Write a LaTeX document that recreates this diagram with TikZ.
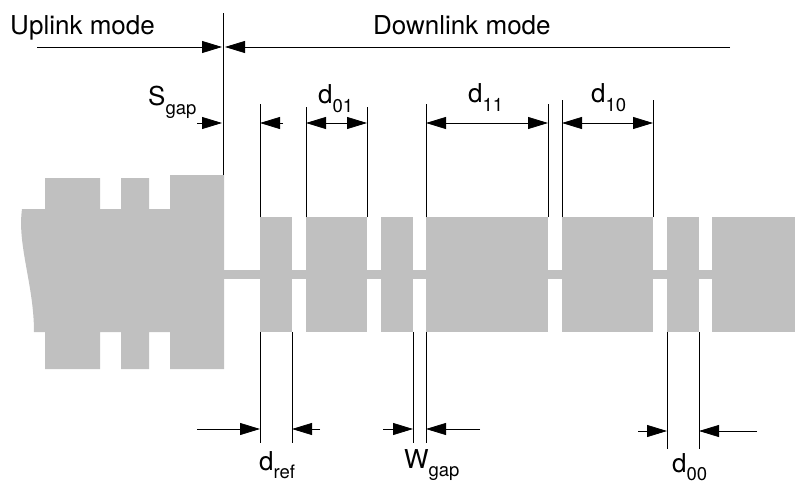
\documentclass[tikz,border=0pt]{standalone}
\usepackage{fontspec}
\setmainfont{TeX Gyre Heros}
\usepackage{xcolor}
\usepackage{tikz}
\usetikzlibrary{arrows.meta}

\definecolor{pulsegray}{RGB}{192,192,192}
\newcommand{\lowsub}[1]{\raisebox{-8.5pt}{\fontsize{18.5}{18.5}\selectfont #1}}

\begin{document}
\begin{tikzpicture}[x=1pt, y=-1pt,
  pulse/.style={fill=pulsegray, inner sep=0pt, outer sep=0pt, minimum height=115pt},
  dimline/.style={line width=0.8pt},
  dimarrow/.style={line width=0.8pt, -{Triangle[length=20pt, width=12pt]}},
  dimboth/.style={line width=0.8pt, {Triangle[length=20pt, width=12pt]}-{Triangle[length=20pt, width=12pt]}},
  lbl/.style={anchor=base west, inner sep=0pt, font=\fontsize{26}{31}\selectfont}
]
  \useasboundingbox (0,0) rectangle (795,484);

  % uplink burst
  \fill[pulsegray] (22,209) -- (45,209) -- (45,178) -- (100,178) -- (100,209)
    -- (121,209) -- (121,178) -- (149,178) -- (149,209) -- (170,209) -- (170,175)
    -- (224,175) -- (224,369) -- (170,369) -- (170,332) -- (149,332) -- (149,369)
    -- (121,369) -- (121,332) -- (100,332) -- (100,369) -- (45,369) -- (45,332)
    -- (34,332) .. controls (34,285) and (17,245) .. (22,209) -- cycle;

  % carrier and downlink pulses
  \fill[pulsegray] (224,270) rectangle (712,279);
  \foreach \n/\a/\b in {1/260/292, 2/306/367, 3/381/413, 4/426/548, 5/562/653, 6/667/699, 7/712/795}
    \node[pulse, minimum width={(\b-\a)*1pt}] (p\n) at ({(\a+\b)/2},274.5) {};

  % mode boundary
  \coordinate (bnd) at (223,175);
  \coordinate (bndtop) at (223,13);
  \draw[dimline] (bnd) -- (bndtop);
  \coordinate (upL) at (37,47);
  \coordinate (upR) at (222,47);
  \coordinate (dnR) at (730,47);
  \coordinate (dnL) at (225,47);
  \draw[dimarrow] (upL) -- (upR);
  \draw[dimarrow] (dnR) -- (dnL);
  \node[lbl] (uplink) at (10,35) {Uplink mode};
  \node[lbl] (downlink) at (373,35) {Downlink mode};

  % upper dimensions
  \coordinate (topdim) at (0,123);
  \coordinate (sgapL) at (197,123);
  \coordinate (sgapR) at (222,123);
  \coordinate (refT) at (283,123);
  \draw[dimarrow] (sgapL) -- (sgapR);
  \draw[dimline] (p1.north west) -- ++(0,-113);
  \draw[dimarrow] (refT) -- (p1.north west |- topdim);
  \draw[dimline] (p2.north west) -- ++(0,-110);
  \draw[dimline] (p2.north east) -- ++(0,-110);
  \draw[dimboth] (p2.north west |- topdim) -- (p2.north east |- topdim);
  \draw[dimline] (p4.north west) -- ++(0,-113);
  \draw[dimline] (p4.north east) -- ++(0,-113);
  \draw[dimboth] (p4.north west |- topdim) -- (p4.north east |- topdim);
  \draw[dimline] (p5.north west) -- ++(0,-117);
  \draw[dimline] (p5.north east) -- ++(0,-117);
  \draw[dimboth] (p5.north west |- topdim) -- (p5.north east |- topdim);
  \node[lbl] (sgap) at (148,106) {S\lowsub{gap}};
  \node[lbl] (d01) at (318,104) {d\lowsub{01}};
  \node[lbl] (d11) at (468,103) {d\lowsub{11}};
  \node[lbl] (d10) at (591,103) {d\lowsub{10}};

  % lower dimensions
  \coordinate (botdim) at (0,429);
  \coordinate (refL) at (197,429);
  \coordinate (refR) at (320,429);
  \coordinate (wgapL) at (383,429);
  \coordinate (wgapR) at (480,429);
  \coordinate (zzL) at (638,431);
  \coordinate (zzR) at (757,431);
  \draw[dimline] (p1.south west) -- ++(0,111);
  \draw[dimline] (p1.south east) -- ++(0,111);
  \draw[dimarrow] (refL) -- (p1.south west |- botdim);
  \draw[dimarrow] (refR) -- (p1.south east |- botdim);
  \draw[dimline] (p3.south east) -- ++(0,111);
  \draw[dimline] (p4.south west) -- ++(0,111);
  \draw[dimarrow] (wgapL) -- (p3.south east |- botdim);
  \draw[dimarrow] (wgapR) -- (p4.south west |- botdim);
  \draw[dimline] (p6.south west) -- ++(0,117);
  \draw[dimline] (p6.south east) -- ++(0,117);
  \draw[dimarrow] (zzL) -- (p6.south west |- zzL);
  \draw[dimarrow] (zzR) -- (p6.south east |- zzR);
  \node[lbl] (dref) at (259,470) {d\lowsub{ref}};
  \node[lbl] (wgap) at (404,468) {W\lowsub{gap}};
  \node[lbl] (d00) at (672,472) {d\lowsub{00}};
\end{tikzpicture}
\end{document}
